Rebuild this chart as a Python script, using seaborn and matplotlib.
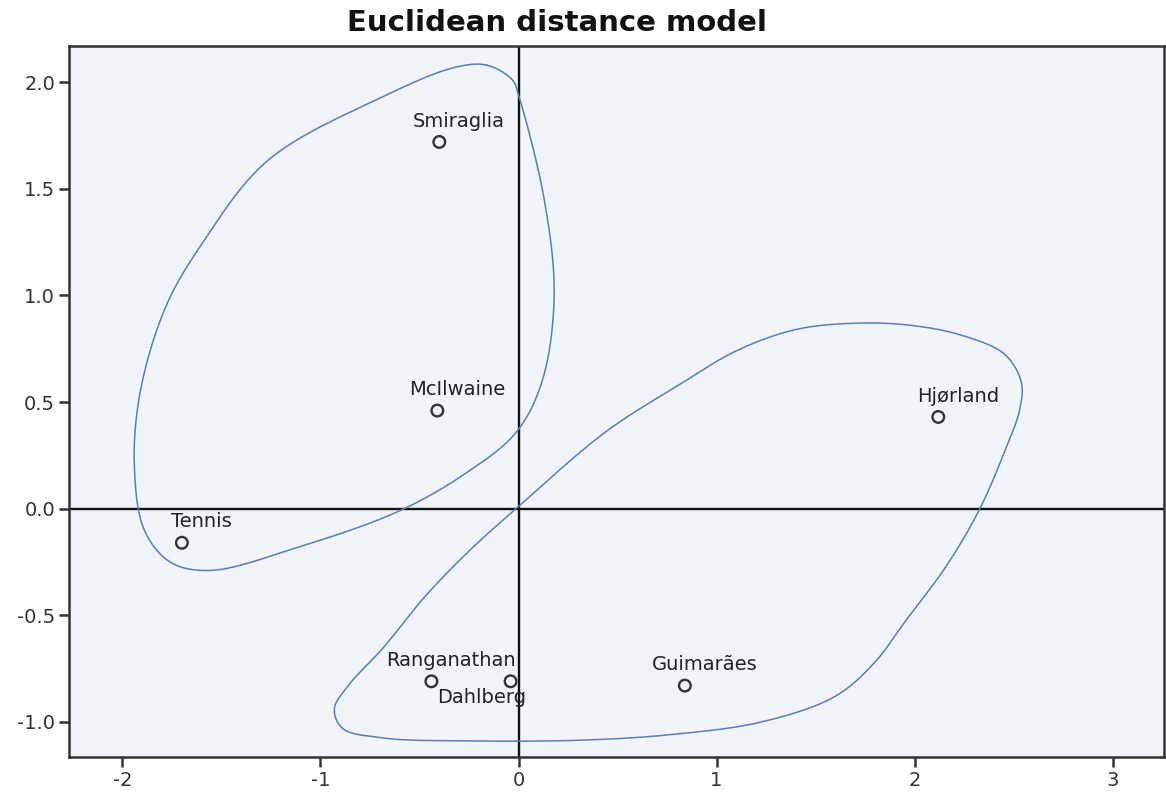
import numpy as np
import pandas as pd
import matplotlib
matplotlib.use("Agg")
import matplotlib.pyplot as plt
import seaborn as sns

# stimulus coordinates (dimension 1 / dimension 2)
names = ["Smiraglia", "McIlwaine", "Tennis", "Hjørland",
         "Ranganathan", "Dahlberg", "Guimarães"]
dim1 = [-0.40, -0.41, -1.70, 2.12, -0.44, -0.04, 0.84]
dim2 = [1.72, 0.46, -0.16, 0.43, -0.81, -0.81, -0.83]

# hand drawn group outlines
loop1_x = [-0.16, -0.03, 0.00, 0.13, 0.18, 0.12, -0.01, -0.26, -0.60,
           -1.11, -1.56, -1.76, -1.89, -1.94, -1.91, -1.78, -1.60,
           -1.27, -0.69, -0.32]
loop1_y = [2.08, 2.01, 1.94, 1.45, 1.00, 0.60, 0.36, 0.17, -0.01,
           -0.18, -0.29, -0.25, -0.10, 0.20, 0.55, 0.95, 1.24,
           1.63, 1.93, 2.07]
loop2_x = [0.00, 0.44, 0.81, 1.10, 1.40, 1.71, 1.98, 2.25, 2.46, 2.54, 2.53,
           2.46, 2.33, 2.16, 1.96, 1.80, 1.60, 1.23, 0.77, 0.35, -0.20, -0.69,
           -0.89, -0.93, -0.86, -0.69, -0.47, -0.24]
loop2_y = [0.01, 0.36, 0.58, 0.74, 0.84, 0.87, 0.86, 0.81, 0.72, 0.59, 0.46,
           0.28, 0.00, -0.27, -0.52, -0.72, -0.88, -1.00, -1.06, -1.085, -1.09,
           -1.075, -1.03, -0.94, -0.83, -0.66, -0.41, -0.19]

df = pd.DataFrame({"name": names, "dim1": dim1, "dim2": dim2})


def closed_curve(xs, ys, n=30, alpha=0.5):
    # centripetal catmull-rom, closed, through the outline points
    p = np.column_stack([xs, ys])
    k = len(p)
    out = []
    for i in range(k):
        p0, p1, p2, p3 = p[i - 1], p[i], p[(i + 1) % k], p[(i + 2) % k]
        t0 = 0.0
        t1 = t0 + np.linalg.norm(p1 - p0) ** alpha
        t2 = t1 + np.linalg.norm(p2 - p1) ** alpha
        t3 = t2 + np.linalg.norm(p3 - p2) ** alpha
        t = np.linspace(t1, t2, n, endpoint=False)[:, None]
        a1 = (t1 - t) / (t1 - t0) * p0 + (t - t0) / (t1 - t0) * p1
        a2 = (t2 - t) / (t2 - t1) * p1 + (t - t1) / (t2 - t1) * p2
        a3 = (t3 - t) / (t3 - t2) * p2 + (t - t2) / (t3 - t2) * p3
        b1 = (t2 - t) / (t2 - t0) * a1 + (t - t0) / (t2 - t0) * a2
        b2 = (t3 - t) / (t3 - t1) * a2 + (t - t1) / (t3 - t1) * a3
        out.append((t2 - t) / (t2 - t1) * b1 + (t - t1) / (t2 - t1) * b2)
    out = np.vstack(out + [out[0][:1]])
    return out[:, 0], out[:, 1]


sns.set_style("ticks")
plt.rcParams["font.family"] = ["DejaVu Sans"]
plt.rcParams["axes.unicode_minus"] = False

fig = plt.figure(figsize=(11.66, 7.96), dpi=100)
ax = fig.add_axes([0.0592, 0.049, 0.9391, 0.8932])
ax.set_facecolor("#F0F3F7")

ax.axhline(0, color="#111111", lw=1.7, zorder=1)
ax.axvline(0, color="#111111", lw=1.7, zorder=1)

for lx, ly in [(loop1_x, loop1_y), (loop2_x, loop2_y)]:
    cx, cy = closed_curve(lx, ly)
    ax.plot(cx, cy, color="#5B7DB1", lw=1.1, zorder=2)

sns.scatterplot(data=df, x="dim1", y="dim2", ax=ax, marker="o", s=70,
                facecolor="none", edgecolor="#333333", linewidth=1.7,
                zorder=5, legend=False)

for _, r in df.iterrows():
    if r["name"] == "Dahlberg":
        off = (-21, -12)
    else:
        off = (14, 15)
    ax.annotate(r["name"], (r["dim1"], r["dim2"]), xytext=off,
                textcoords="offset points", ha="center", va="center",
                fontsize=14, color="#222222")

ax.set_xlim(-2.27, 3.26)
ax.set_ylim(-1.165, 2.17)
ax.set_xticks([-2, -1, 0, 1, 2, 3])
ax.set_yticks([-1.0, -0.5, 0.0, 0.5, 1.0, 1.5, 2.0])
ax.set_yticklabels([f"{v:.1f}" for v in [-1.0, -0.5, 0.0, 0.5, 1.0, 1.5, 2.0]])
ax.set_xlabel("")
ax.set_ylabel("")
ax.tick_params(length=7, width=1.8, color="#333333", labelsize=14,
               labelcolor="#333333", pad=3)
for s in ax.spines.values():
    s.set_visible(True)
    s.set_linewidth(1.8)
    s.set_color("#333333")

fig.text(0.478, 0.971, "Euclidean distance model", ha="center", va="center",
         fontsize=21, fontweight="bold", color="#111111")

fig.savefig("out.png", dpi=100)
